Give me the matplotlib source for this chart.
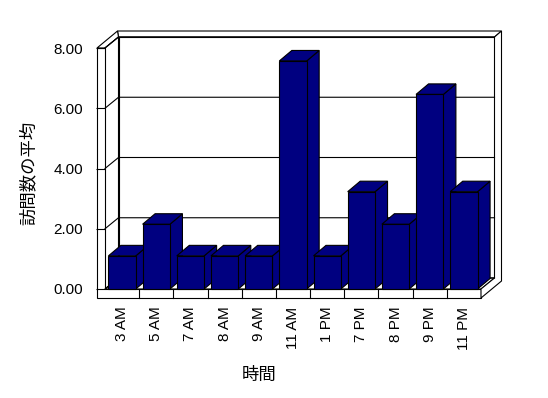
import matplotlib
matplotlib.use('Agg')
import matplotlib.pyplot as plt
from matplotlib.patches import Polygon
from matplotlib.transforms import IdentityTransform
import numpy as np

plt.rcParams['font.family'] = ['Liberation Sans', 'Noto Sans CJK JP']

# data
hours = ['3 AM', '5 AM', '7 AM', '8 AM', '9 AM', '11 AM', '1 PM', '7 PM', '8 PM', '9 PM', '11 PM']
avg_visits = [1.1, 2.15, 1.1, 1.1, 1.1, 7.57, 1.1, 3.23, 2.15, 6.46, 3.23]
y_ticks = [0, 2, 4, 6, 8]
y_tick_labels = ['0.00', '2.00', '4.00', '6.00', '8.00']

W, H = 548, 398
navy = '#000080'
lw = 0.8

fig = plt.figure(figsize=(W / 100, H / 100), dpi=100)
fig.patch.set_facecolor('white')
ax = fig.add_axes([105 / W, (H - 289) / H, 376 / W, 241 / H])
ax.set_autoscale_on(False)
ax.set_xlim(0, len(hours))
ax.set_ylim(0, 8)
ax.patch.set_visible(False)
for s in ax.spines.values():
    s.set_visible(False)

ident = IdentityTransform()


def px(x, y):
    return np.array(ax.transData.transform((x, y)))


def poly(pts, fc='white', z=1.0):
    p = Polygon(np.array(pts), closed=True, facecolor=fc, edgecolor='black',
                linewidth=lw, transform=ident, clip_on=False, zorder=z)
    ax.add_patch(p)


def line(pts, z=1.5):
    pts = np.array(pts)
    ax.plot(pts[:, 0], pts[:, 1], color='black', lw=lw, transform=ident,
            clip_on=False, zorder=z)


# 3d frame (pixel offsets)
di = np.array([13.5, 11.0])    # inner depth
do = np.array([20.5, 17.0])    # outer depth incl. back wall
tw, tf = 8, 9                  # wall / floor thickness

x0, y0 = px(0, 0)
x1, y1 = px(len(hours), 8)
p00, p10, p01, p11 = np.array([x0, y0]), np.array([x1, y0]), np.array([x0, y1]), np.array([x1, y1])

# back wall face + top band
poly([p00 + di, p10 + di, p11 + di, p01 + di])
poly([p01 + di, p11 + di, p11 + do, [x0 - tw + do[0], y1 + do[1]]])
# left wall top
poly([[x0 - tw, y1], p01, p01 + di, [x0 - tw + do[0], y1 + do[1]]])
# left wall inner side
poly([p00, p01, p01 + di, p00 + di])
# floor top
poly([p00, p10, p10 + di, p00 + di])
# front L face
poly([[x0 - tw, y1], p01, p00, p10, [x1, y0 - tf], [x0 - tw, y0 - tf]])
# right side
poly([p10, p10 + di, p11 + di, p11 + do, [x1 + do[0], y0 - tf + do[1]], [x1, y0 - tf]])

# gridlines on the side wall and back wall
for v in y_ticks:
    a = px(0, v)
    b = px(len(hours), v)
    line([a, a + di, b + di])

# floor ticks between categories
for k in range(1, len(hours)):
    a = px(k, 0)
    line([a, a - [0, tf]])

# bars
bd = np.array([12.5, 10.5])
for i, v in enumerate(avg_visits):
    z = 3 + 0.01 * i
    fl, fr = px(i + 0.1, 0), px(i + 0.9, 0)
    tl, tr = px(i + 0.1, v), px(i + 0.9, v)
    poly([fr, tr, tr + bd, fr + bd], fc=navy, z=z)
    poly([tl, tr, tr + bd, tl + bd], fc=navy, z=z)
bars = ax.bar(np.arange(len(hours)) + 0.1, avg_visits, width=0.8, align='edge',
              color=navy, edgecolor='black', linewidth=lw)
for i, b in enumerate(bars):
    b.set_zorder(3 + 0.01 * i + 0.005)
    b.set_clip_on(False)

ax.set_yticks(y_ticks)
ax.set_yticklabels(y_tick_labels)
ax.set_xticks(np.arange(len(hours)) + 0.5)
ax.set_xticklabels(hours, rotation=90)
ax.tick_params(axis='y', length=6.5, width=lw, direction='out', pad=9.4, labelsize=11)
ax.tick_params(axis='x', length=0, pad=12.7, labelsize=11)

fig.text(259 / W, 1 - 375 / H, '時間', ha='center', va='center', fontsize=12.5)
fig.text(28 / W, 1 - 172.5 / H, '訪問数の平均', ha='center', va='center',
         rotation=90, fontsize=12.5)

fig.savefig('out.png', dpi=100, facecolor='white')
